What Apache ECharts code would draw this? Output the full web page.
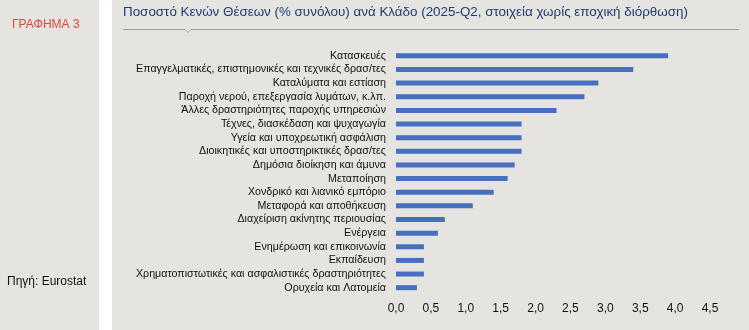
<!DOCTYPE html>
<html><head><meta charset="utf-8">
<script src="https://cdn.jsdelivr.net/npm/echarts@6/dist/echarts.min.js"></script>
<style>html,body{margin:0;padding:0;background:#fff;}#c{width:749px;height:330px;}</style>
</head><body><div id="c"></div>
<script>
const categories = [
  "Κατασκευές",
  "Επαγγελματικές, επιστημονικές και τεχνικές δρασ/τες",
  "Καταλύματα και εστίαση",
  "Παροχή νερού, επεξεργασία λυμάτων, κ.λπ.",
  "Άλλες δραστηριότητες παροχής υπηρεσιών",
  "Τέχνες, διασκέδαση και ψυχαγωγία",
  "Υγεία και υποχρεωτική ασφάλιση",
  "Διοικητικές και υποστηρικτικές δρασ/τες",
  "Δημόσια διοίκηση και άμυνα",
  "Μεταποίηση",
  "Χονδρικό και λιανικό εμπόριο",
  "Μεταφορά και αποθήκευση",
  "Διαχείριση ακίνητης περιουσίας",
  "Ενέργεια",
  "Ενημέρωση και επικοινωνία",
  "Εκπαίδευση",
  "Χρηματοπιστωτικές και ασφαλιστικές δραστηριότητες",
  "Ορυχεία και Λατομεία"
];
const values = [3.9, 3.4, 2.9, 2.7, 2.3, 1.8, 1.8, 1.8, 1.7, 1.6, 1.4, 1.1, 0.7, 0.6, 0.4, 0.4, 0.4, 0.3];
const xTicks = [0, 0.5, 1, 1.5, 2, 2.5, 3, 3.5, 4, 4.5];
const titleText = "Ποσοστό Κενών Θέσεων (% συνόλου) ανά Κλάδο (2025-Q2, στοιχεία χωρίς εποχική διόρθωση)";
const chartLabel = "ΓΡΑΦΗΜΑ 3";
const sourceText = "Πηγή: Eurostat";

const bg = '#e5e4e0';
const font = '"Liberation Sans", Arial, sans-serif';
const chart = echarts.init(document.getElementById('c'), null, {renderer: 'canvas'});
chart.setOption({
  animation: false,
  backgroundColor: '#ffffff',
  graphic: [
    {type: 'rect', z: -10, shape: {x: 0, y: 0, width: 99, height: 330}, style: {fill: bg}},
    {type: 'rect', z: -10, shape: {x: 112, y: 0, width: 637, height: 330}, style: {fill: bg}},
    {type: 'text', x: 12, y: 25, style: {text: chartLabel, fill: '#e0463c', font: '12px ' + font, textVerticalAlign: 'middle'}},
    {type: 'text', x: 7, y: 282, style: {text: sourceText, fill: '#111', font: '12px ' + font, textVerticalAlign: 'middle'}},
    {type: 'text', x: 123, y: 12.5, style: {text: titleText, fill: '#1f3d73', font: '13.4px ' + font, textVerticalAlign: 'middle'}},
    {type: 'polyline', shape: {points: [[123, 29.5], [185, 29.5], [188, 32.5], [191, 29.5], [739, 29.5]]}, style: {stroke: '#9a9fa8', lineWidth: 1, fill: null}}
  ],
  grid: {left: 396, right: 39, top: 49, bottom: 35.5, containLabel: false},
  xAxis: {
    type: 'value', min: 0, max: 4.5, interval: 0.5,
    axisLine: {show: false}, axisTick: {show: false}, splitLine: {show: false},
    axisLabel: {margin: 8, color: '#111', fontSize: 12, fontFamily: font,
      formatter: v => xTicks.includes(v) ? v.toFixed(1).replace('.', ',') : ''}
  },
  yAxis: {
    type: 'category', data: categories, inverse: true,
    axisLine: {show: false}, axisTick: {show: false},
    axisLabel: {interval: 0, margin: 10, color: '#111', fontSize: 10.7, fontFamily: font}
  },
  series: [{type: 'bar', data: values, barWidth: 5, itemStyle: {color: '#4670bf'}}]
});
</script></body></html>
